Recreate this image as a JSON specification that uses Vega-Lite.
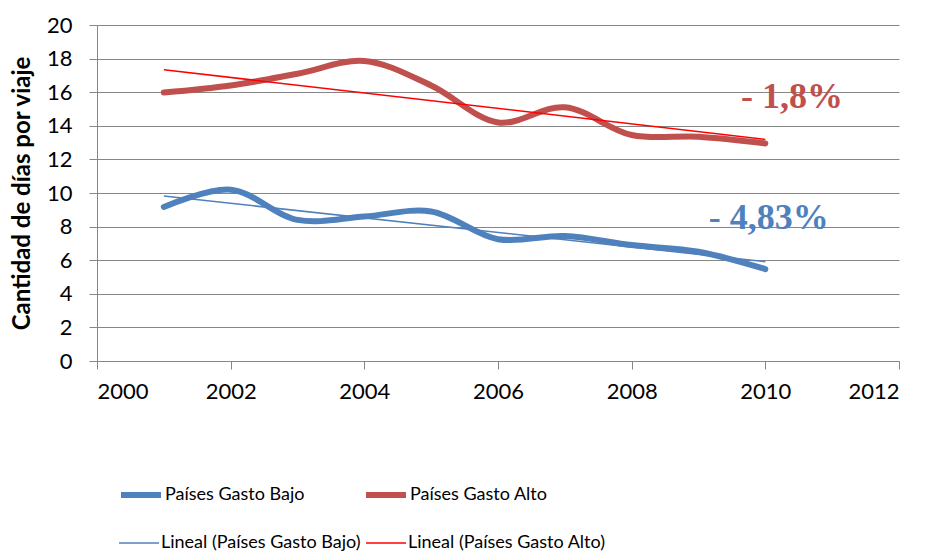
{
  "$schema": "https://vega.github.io/schema/vega-lite/v6.json",
  "width": 802,
  "height": 336,
  "autosize": {"type": "none"},
  "padding": {"left": 97, "top": 25, "right": 29, "bottom": 192},
  "background": "white",
  "config": {"view": {"stroke": null}, "font": "Lato"},
  "datasets": {
    "series": [
      {"year": 2001, "value": 9.17, "serie": "Países Gasto Bajo"},
      {"year": 2002, "value": 10.2, "serie": "Países Gasto Bajo"},
      {"year": 2003, "value": 8.4, "serie": "Países Gasto Bajo"},
      {"year": 2004, "value": 8.6, "serie": "Países Gasto Bajo"},
      {"year": 2005, "value": 8.9, "serie": "Países Gasto Bajo"},
      {"year": 2006, "value": 7.25, "serie": "Países Gasto Bajo"},
      {"year": 2007, "value": 7.44, "serie": "Países Gasto Bajo"},
      {"year": 2008, "value": 6.9, "serie": "Países Gasto Bajo"},
      {"year": 2009, "value": 6.5, "serie": "Países Gasto Bajo"},
      {"year": 2010, "value": 5.47, "serie": "Países Gasto Bajo"},
      {"year": 2001, "value": 15.98, "serie": "Países Gasto Alto"},
      {"year": 2002, "value": 16.4, "serie": "Países Gasto Alto"},
      {"year": 2003, "value": 17.1, "serie": "Países Gasto Alto"},
      {"year": 2004, "value": 17.86, "serie": "Países Gasto Alto"},
      {"year": 2005, "value": 16.4, "serie": "Países Gasto Alto"},
      {"year": 2006, "value": 14.2, "serie": "Países Gasto Alto"},
      {"year": 2007, "value": 15.1, "serie": "Países Gasto Alto"},
      {"year": 2008, "value": 13.45, "serie": "Países Gasto Alto"},
      {"year": 2009, "value": 13.35, "serie": "Países Gasto Alto"},
      {"year": 2010, "value": 12.95, "serie": "Países Gasto Alto"}
    ],
    "trends": [
      {"year": 2001, "value": 9.82, "serie": "Lineal (Países Gasto Bajo)"},
      {"year": 2010, "value": 5.91, "serie": "Lineal (Países Gasto Bajo)"},
      {"year": 2001, "value": 17.34, "serie": "Lineal (Países Gasto Alto)"},
      {"year": 2010, "value": 13.19, "serie": "Lineal (Países Gasto Alto)"}
    ],
    "labels": [
      {"year": 2010.4, "value": 15.7, "label": "- 1,8%", "grupo": "alto"},
      {"year": 2010.05, "value": 8.5, "label": "- 4,83%", "grupo": "bajo"}
    ]
  },
  "encoding": {
    "x": {
      "field": "year", "type": "quantitative",
      "scale": {"domain": [2000, 2012], "nice": false, "zero": false},
      "axis": {
        "values": [2000, 2002, 2004, 2006, 2008, 2010, 2012], "format": "d",
        "title": null, "grid": false,
        "domainColor": "#868686", "tickColor": "#868686", "tickSize": 8,
        "labelFontSize": 22, "labelColor": "black", "labelPadding": 12, "labelFont": "Lato"
      }
    },
    "y": {
      "field": "value", "type": "quantitative",
      "scale": {"domain": [0, 20], "nice": false},
      "axis": {
        "values": [0, 2, 4, 6, 8, 10, 12, 14, 16, 18, 20],
        "title": "Cantidad de días por viaje", "titleFontSize": 24, "titleFontWeight": "bold",
        "titleColor": "black", "titlePadding": 12, "titleFont": "Lato",
        "gridColor": "#868686", "gridWidth": 1,
        "domainColor": "#868686", "tickColor": "#868686", "tickSize": 8,
        "labelFontSize": 22, "labelColor": "black", "labelPadding": 17, "labelFont": "Lato"
      }
    }
  },
  "layer": [
    {
      "data": {"name": "series"},
      "mark": {"type": "line", "interpolate": "catmull-rom", "strokeCap": "round", "strokeWidth": 6},
      "encoding": {
        "color": {
          "field": "serie", "type": "nominal",
          "scale": {
            "domain": ["Países Gasto Bajo", "Países Gasto Alto"],
            "range": ["#4F81BD", "#C0504D"]
          },
          "legend": {
            "orient": "none", "legendX": 21, "legendY": 447, "columns": 2, "title": null,
            "symbolType": "stroke", "symbolSize": 1600, "symbolStrokeWidth": 6, "labelFontSize": 18, "labelColor": "black",
            "labelFont": "Lato", "labelOffset": 1, "columnPadding": 49, "labelLimit": 400,
            "padding": 0
          }
        }
      }
    },
    {
      "data": {"name": "trends"},
      "mark": {"type": "line", "strokeWidth": 1.5},
      "encoding": {
        "stroke": {
          "field": "serie", "type": "nominal",
          "scale": {
            "domain": ["Lineal (Países Gasto Bajo)", "Lineal (Países Gasto Alto)"],
            "range": ["#4F81BD", "#FF0000"]
          },
          "legend": {
            "orient": "none", "legendX": 21, "legendY": 497, "columns": 2, "title": null,
            "symbolType": "stroke", "symbolSize": 1600, "symbolStrokeWidth": 1.5, "labelFontSize": 18, "labelColor": "black",
            "labelFont": "Lato", "labelOffset": 1, "columnPadding": 2, "labelLimit": 400,
            "padding": 0
          }
        }
      }
    },
    {
      "data": {"name": "labels"},
      "transform": [{"filter": "datum.grupo == 'alto'"}],
      "mark": {"type": "text", "font": "Liberation Serif", "fontWeight": "bold", "fontSize": 36, "color": "#C0504D", "align": "center", "baseline": "middle"},
      "encoding": {"text": {"field": "label"}}
    },
    {
      "data": {"name": "labels"},
      "transform": [{"filter": "datum.grupo == 'bajo'"}],
      "mark": {"type": "text", "font": "Liberation Serif", "fontWeight": "bold", "fontSize": 36, "color": "#4F81BD", "align": "center", "baseline": "middle"},
      "encoding": {"text": {"field": "label"}}
    }
  ]
}
